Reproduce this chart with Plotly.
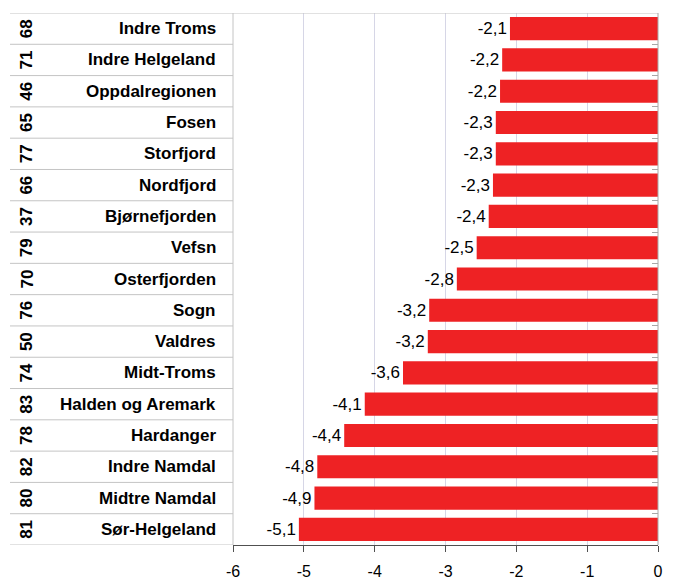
import plotly.graph_objects as go

codes = ["68", "71", "46", "65", "77", "66", "37", "79", "70", "76", "50", "74", "83", "78", "82", "80", "81"]
names = ["Indre Troms", "Indre Helgeland", "Oppdalregionen", "Fosen", "Storfjord", "Nordfjord",
         "Bjørnefjorden", "Vefsn", "Osterfjorden", "Sogn", "Valdres", "Midt-Troms",
         "Halden og Aremark", "Hardanger", "Indre Namdal", "Midtre Namdal", "Sør-Helgeland"]
values = [-2.09, -2.20, -2.23, -2.29, -2.29, -2.33, -2.39, -2.56, -2.84, -3.23, -3.25, -3.60,
          -4.14, -4.43, -4.81, -4.85, -5.07]
value_labels = ["-2,1", "-2,2", "-2,2", "-2,3", "-2,3", "-2,3", "-2,4", "-2,5", "-2,8", "-3,2",
                "-3,2", "-3,6", "-4,1", "-4,4", "-4,8", "-4,9", "-5,1"]
x_ticks = [-6, -5, -4, -3, -2, -1, 0]
x_tick_labels = ["-6", "-5", "-4", "-3", "-2", "-1", "0"]

W, H = 673, 581
L, T = 233, 13
PW, PH = 425, 532
R = W - L - PW
B = H - T - PH
FONT = "Liberation Sans, Arial, sans-serif"

n = len(names)
ypos = list(range(n))

fig = go.Figure(go.Bar(
    x=values, y=ypos, orientation="h",
    marker=dict(color="#EE2224", line=dict(width=0)),
    width=0.74,
    text=value_labels, textposition="outside", cliponaxis=False,
    textfont=dict(family=FONT, size=17, color="#000000"),
    hoverinfo="skip",
))

def px2paper(px):
    return (px - L) / PW

annotations = []
shapes = []
for i in range(n):
    annotations.append(dict(xref="paper", yref="y", x=px2paper(218), y=ypos[i], text="<b>%s</b>" % names[i],
                            xanchor="right", yanchor="middle", showarrow=False,
                            font=dict(family=FONT, size=17, color="#000000")))
    annotations.append(dict(xref="paper", yref="y", x=px2paper(26.5), y=ypos[i], text="<b>%s</b>" % codes[i],
                            xanchor="center", yanchor="middle", showarrow=False, textangle=-90,
                            font=dict(family=FONT, size=17, color="#000000")))
for i in range(n + 1):
    shapes.append(dict(type="line", xref="paper", yref="y", x0=px2paper(10), x1=0,
                       y0=i - 0.5, y1=i - 0.5, line=dict(color="#C4C4C4", width=1)))
# frame top, left, right
shapes.append(dict(type="line", xref="paper", yref="y", x0=0, x1=1, y0=-0.5, y1=-0.5,
                   line=dict(color="#C4C4C4", width=1)))
shapes.append(dict(type="line", xref="paper", yref="y", x0=0, x1=0, y0=-0.5, y1=n - 0.5,
                   line=dict(color="#C4C4C4", width=1)))
shapes.append(dict(type="line", xref="paper", yref="y", x0=1, x1=1, y0=-0.5, y1=n - 0.5,
                   line=dict(color="#A8A8A8", width=1)))

fig.update_layout(
    width=W, height=H,
    margin=dict(l=L, r=R, t=T, b=B, pad=0, autoexpand=False),
    paper_bgcolor="#FFFFFF", plot_bgcolor="#FFFFFF",
    showlegend=False,
    bargap=0.26,
    annotations=annotations,
    shapes=shapes,
    xaxis=dict(range=[-6, 0], tickvals=x_ticks, ticktext=x_tick_labels, automargin=False,
               ticks="outside", ticklen=6, tickcolor="#505050", tickwidth=1,
               showline=True, linecolor="#505050", linewidth=1,
               showgrid=True, gridcolor="#D6D6E6", gridwidth=1, zeroline=False,
               ticklabelstandoff=6,
               tickfont=dict(family=FONT, size=16, color="#000000"), fixedrange=True),
    yaxis=dict(range=[n - 0.5, -0.5], side="right", automargin=False,
               tickvals=[i + 0.5 for i in range(n - 1)], ticktext=[""] * (n - 1),
               ticks="inside", ticklen=6, tickcolor="#A8A8A8",
               showticklabels=False, showgrid=False, zeroline=False, showline=False,
               fixedrange=True),
)

# remove the default 8px page margin so the figure fills the window exactly
fig.write_html("out.html", config={"displayModeBar": False, "staticPlot": True},
               post_script="document.body.style.margin='0';document.body.style.padding='0';"
                           "document.documentElement.style.overflow='hidden';")
